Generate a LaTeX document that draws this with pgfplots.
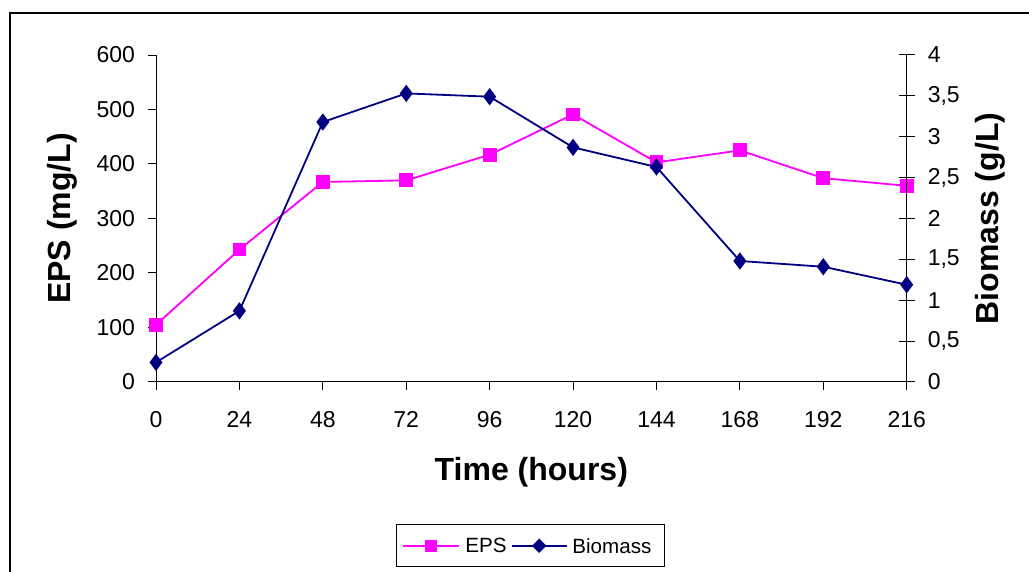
\documentclass[border=0pt]{standalone}
\usepackage{pgfplots}
\pgfplotsset{compat=1.18}
\usepackage{fontspec}
\setmainfont{Liberation Sans}
\definecolor{epsc}{RGB}{255,0,255}
\definecolor{bioc}{RGB}{0,0,128}
\begin{document}
\begin{tikzpicture}
\useasboundingbox (0,0) rectangle (514.5pt,286pt);
\draw[line width=1.2pt] (5pt,-10pt) rectangle (530pt,279.5pt);
\pgfplotsset{
  common/.style={
    scale only axis,
    width=375.35pt, height=163.5pt,
    at={(78pt,95pt)}, anchor=south west,
    xmin=0, xmax=216,
    /pgf/number format/assume math mode=true,
    tick label style={font=\fontsize{11.5}{13}\selectfont, black},
    tick style={black, line width=0.5pt},
  },
}
\begin{axis}[common,
  axis x line=bottom, axis y line=left,
  axis line style={black, line width=0.5pt, -},
  ymin=0, ymax=600, ytick={0,100,200,300,400,500,600},
  xtick={0,24,48,72,96,120,144,168,192,216},
  xticklabels={0,24,48,72,96,120,144,168,192,216},
  tick align=outside, major tick length=4pt,
  xticklabel style={yshift=-7pt, anchor=north, text height=8pt},
  yticklabel style={xshift=-3pt},
  xlabel={Time (hours)},
  ylabel={EPS (mg/L)},
  xlabel style={at={(axis description cs:0.5,-0.275)}, anchor=center, font=\fontsize{16}{19}\selectfont\bfseries},
  ylabel style={at={(axis description cs:-0.125,0.5)}, anchor=center, font=\fontsize{16}{19}\selectfont\bfseries},
  clip=false,
]
\addplot[color=epsc, line width=0.9pt, mark=square*, mark size=3pt, mark options={solid, fill=epsc}] coordinates {
(0,105) (24,243) (48,367) (72,370) (96,417) (120,491) (144,403) (168,425) (192,374) (216,360)};
\end{axis}
\begin{axis}[common,
  axis x line=none, axis y line=right,
  axis line style={black, line width=0.5pt, -},
  ymin=0, ymax=4, ytick={0,0.5,1,1.5,2,2.5,3,3.5,4},
  tick align=center, major tick length=8pt,
  yticklabel style={xshift=3pt, /pgf/number format/.cd, use comma, fixed, fixed zerofill=false},
  ylabel={Biomass (g/L)},
  ylabel style={at={(axis description cs:1.112,0.5)}, anchor=center, font=\fontsize{16}{19}\selectfont\bfseries},
  clip=false,
]
\addplot[color=bioc, line width=0.9pt, mark=diamond*, mark size=3.6pt, mark options={solid, fill=bioc}] coordinates {
(0,0.24) (24,0.87) (48,3.18) (72,3.53) (96,3.49) (120,2.87) (144,2.63) (168,1.48) (192,1.41) (216,1.19)};
\end{axis}
% legend
\draw[black, line width=0.5pt, fill=white] (198.3pt,2.7pt) rectangle (332pt,23.5pt);
\draw[epsc, line width=0.9pt] (201.5pt,13.1pt) -- (229.5pt,13.1pt);
\fill[epsc] (212.5pt,10.1pt) rectangle (218.5pt,16.1pt);
\node[anchor=west, inner sep=0pt, font=\fontsize{10.3}{12}\selectfont] at (232.5pt,13.1pt) {EPS};
\draw[bioc, line width=0.9pt] (255.9pt,13.1pt) -- (283.4pt,13.1pt);
\fill[bioc] (269.6pt,9.5pt) -- (273.2pt,13.1pt) -- (269.6pt,16.7pt) -- (266pt,13.1pt) -- cycle;
\node[anchor=west, inner sep=0pt, font=\fontsize{10.3}{12}\selectfont] at (286pt,13.1pt) {Biomass};
\end{tikzpicture}
\end{document}
